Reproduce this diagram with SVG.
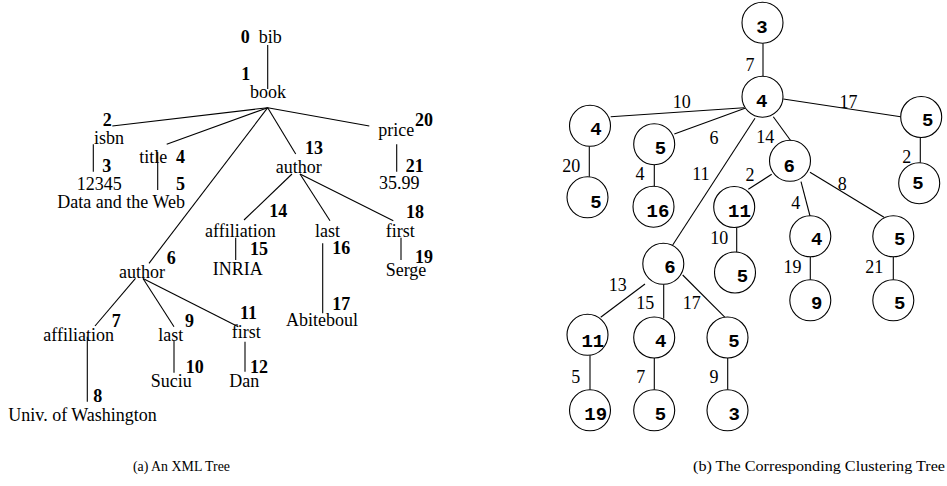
<svg xmlns="http://www.w3.org/2000/svg" width="947" height="486" viewBox="0 0 947 486">
<style>
text{font-family:"Liberation Serif","Times New Roman",serif;font-size:18px;fill:#000}
.b{font-weight:bold}
.n{font-family:"Liberation Mono","Courier New",monospace;font-weight:bold;font-size:19px;text-anchor:middle}
.cap{font-size:15px}
line{stroke:#000;stroke-width:1.1}
circle{fill:#fff;stroke:#000;stroke-width:1.1}
</style>
<rect width="947" height="486" fill="#fff"/>
<g id="connectors">
<line x1="267.7" y1="45" x2="267.7" y2="89"/>
<line x1="267.7" y1="107.7" x2="112.3" y2="126"/>
<line x1="267.7" y1="107.7" x2="166.7" y2="144.3"/>
<line x1="267.7" y1="107.7" x2="149" y2="263.3"/>
<line x1="267.7" y1="107.7" x2="295.7" y2="154"/>
<line x1="267.7" y1="107.7" x2="369.3" y2="126"/>
<line x1="93.3" y1="144.3" x2="93.3" y2="171.7"/>
<line x1="157.7" y1="152" x2="157.7" y2="190"/>
<line x1="396.7" y1="144.3" x2="396.7" y2="171.7"/>
<line x1="292" y1="174" x2="244" y2="220"/>
<line x1="300" y1="174" x2="330" y2="220.7"/>
<line x1="300" y1="174" x2="393.3" y2="220.7"/>
<line x1="235.7" y1="237.7" x2="235.7" y2="260"/>
<line x1="322.7" y1="243.3" x2="322.7" y2="313.3"/>
<line x1="401" y1="237.7" x2="401" y2="260"/>
<line x1="135.5" y1="278.3" x2="95" y2="326"/>
<line x1="143" y1="278.5" x2="174" y2="326.7"/>
<line x1="143" y1="278.5" x2="238.3" y2="326.7"/>
<line x1="87.3" y1="336.7" x2="87.3" y2="401.7"/>
<line x1="174" y1="340.7" x2="174" y2="372.7"/>
<line x1="245" y1="341.7" x2="245" y2="371.7"/>
<line x1="763" y1="43.3" x2="763" y2="76.2"/>
<line x1="783.3" y1="99" x2="900.7" y2="116.7"/>
<line x1="920.3" y1="137.5" x2="920.3" y2="162.7"/>
<line x1="773.3" y1="116.7" x2="791.7" y2="142"/>
<line x1="744" y1="107.7" x2="610.7" y2="116.7"/>
<line x1="589.3" y1="146.3" x2="589.3" y2="176.8"/>
<line x1="745" y1="108.3" x2="674.3" y2="134"/>
<line x1="654.3" y1="164.7" x2="654.3" y2="186.2"/>
<line x1="755" y1="118.3" x2="672.7" y2="245"/>
<line x1="771.7" y1="174.3" x2="748.3" y2="189.3"/>
<line x1="736.7" y1="227.5" x2="736.7" y2="252"/>
<line x1="801" y1="181.7" x2="810" y2="216"/>
<line x1="810.3" y1="256.8" x2="810.3" y2="279.8"/>
<line x1="810" y1="172.3" x2="884" y2="217.3"/>
<line x1="893.3" y1="256.8" x2="893.3" y2="279.8"/>
<line x1="645" y1="284" x2="600.7" y2="317.3"/>
<line x1="663.7" y1="284.3" x2="663.7" y2="318.5"/>
<line x1="682.7" y1="275" x2="725" y2="317.3"/>
<line x1="590" y1="355.3" x2="590" y2="389.8"/>
<line x1="654.3" y1="358" x2="654.3" y2="389.8"/>
<line x1="727.7" y1="358" x2="727.7" y2="389.8"/>
</g>
<g id="x0"><text class="b" x="240.7" y="43">0</text><text x="258.7" y="43">bib</text></g>
<g id="x1"><text class="b" x="241.3" y="80">1</text><text x="250" y="98">book</text></g>
<g id="x2"><text class="b" x="102.7" y="126">2</text><text x="94" y="144">isbn</text></g>
<g id="x3"><text class="b" x="102.3" y="171.7">3</text><text x="76.7" y="190">12345</text></g>
<g id="x4"><text x="139.3" y="162.7">title</text><text class="b" x="176" y="162.7">4</text></g>
<g id="x5"><text class="b" x="176" y="190">5</text><text x="57.3" y="208.3">Data and the Web</text></g>
<g id="x6"><text class="b" x="166.7" y="264">6</text><text x="119" y="277.7">author</text></g>
<g id="x7"><text class="b" x="111.7" y="327.3">7</text><text x="43.3" y="340.7">affiliation</text></g>
<g id="x8"><text class="b" x="93.3" y="401.7">8</text><text x="8.3" y="421">Univ. of Washington</text></g>
<g id="x9"><text class="b" x="185" y="326.7">9</text><text x="158.3" y="340.7">last</text></g>
<g id="x10"><text class="b" x="185.7" y="372.7">10</text><text x="150.7" y="387.3">Suciu</text></g>
<g id="x11"><text class="b" x="240" y="319.3">11</text><text x="231.7" y="338.3">first</text></g>
<g id="x12"><text class="b" x="250" y="373.3">12</text><text x="229.3" y="387.3">Dan</text></g>
<g id="x13"><text class="b" x="305" y="154">13</text><text x="275.7" y="173">author</text></g>
<g id="x14"><text class="b" x="269.3" y="217.3">14</text><text x="205" y="236.7">affiliation</text></g>
<g id="x15"><text class="b" x="250" y="255">15</text><text x="212.7" y="275">INRIA</text></g>
<g id="x16"><text class="b" x="332.3" y="254.3">16</text><text x="315" y="236.7">last</text></g>
<g id="x17"><text class="b" x="332.3" y="310">17</text><text x="286" y="326">Abiteboul</text></g>
<g id="x18"><text class="b" x="406" y="217.7">18</text><text x="385.7" y="236.7">first</text></g>
<g id="x19"><text class="b" x="415" y="262.7">19</text><text x="385.7" y="276">Serge</text></g>
<g id="x20"><text class="b" x="415" y="126">20</text><text x="378.3" y="136">price</text></g>
<g id="x21"><text class="b" x="405.7" y="171.7">21</text><text x="379" y="189">35.99</text></g>
<g id="c_root"><circle cx="762.5" cy="22.7" r="20.5"/><text class="n" x="762" y="33.3">3</text></g>
<g id="c_top"><circle cx="762.5" cy="96.7" r="20.5"/><text class="n" x="761.7" y="107.3">4</text></g>
<g id="c_r1"><circle cx="921.2" cy="117" r="20.5"/><text class="n" x="927.7" y="126">5</text></g>
<g id="c_r2"><circle cx="919.2" cy="183.2" r="20.5"/><text class="n" x="918" y="189.3">5</text></g>
<g id="c_l1"><circle cx="590" cy="125.8" r="20.5"/><text class="n" x="596" y="135">4</text></g>
<g id="c_l2"><circle cx="587.5" cy="197.3" r="20.5"/><text class="n" x="596" y="208.3">5</text></g>
<g id="c_m1"><circle cx="654.2" cy="144.2" r="20.5"/><text class="n" x="660.5" y="154">5</text></g>
<g id="c_m2"><circle cx="653.5" cy="206.7" r="20.5"/><text class="n" x="658" y="217.3">16</text></g>
<g id="c_s6"><circle cx="790" cy="160.8" r="20.5"/><text class="n" x="789.3" y="171.7">6</text></g>
<g id="c_s11"><circle cx="734.2" cy="207" r="20.5"/><text class="n" x="739.5" y="216.7">11</text></g>
<g id="c_s5"><circle cx="735" cy="272.5" r="20.5"/><text class="n" x="742.5" y="281.7">5</text></g>
<g id="c_s4"><circle cx="810.3" cy="236.3" r="20.5"/><text class="n" x="816.7" y="245">4</text></g>
<g id="c_s9"><circle cx="810.3" cy="300.3" r="20.5"/><text class="n" x="816.7" y="309.3">9</text></g>
<g id="c_s5b"><circle cx="893.3" cy="236.3" r="20.5"/><text class="n" x="899.7" y="245">5</text></g>
<g id="c_s5c"><circle cx="893.3" cy="300.3" r="20.5"/><text class="n" x="899.7" y="309.3">5</text></g>
<g id="c_b6"><circle cx="663.3" cy="263.8" r="20.5"/><text class="n" x="670" y="272.7">6</text></g>
<g id="c_b11"><circle cx="587.5" cy="334.8" r="20.5"/><text class="n" x="592.8" y="346.7">11</text></g>
<g id="c_b4"><circle cx="654.2" cy="337.5" r="20.5"/><text class="n" x="660.8" y="346.7">4</text></g>
<g id="c_b5"><circle cx="727.5" cy="337.5" r="20.5"/><text class="n" x="734" y="346.7">5</text></g>
<g id="c_b19"><circle cx="590" cy="410.3" r="20.5"/><text class="n" x="595.7" y="420">19</text></g>
<g id="c_b5b"><circle cx="654.2" cy="410.3" r="20.5"/><text class="n" x="660.5" y="420">5</text></g>
<g id="c_b3"><circle cx="727.5" cy="410.3" r="20.5"/><text class="n" x="734.3" y="420">3</text></g>
<g id="edge_labels">
<text x="745.5" y="70.7">7</text>
<text x="839.5" y="108.3">17</text>
<text x="902.2" y="163.3">2</text>
<text x="756.2" y="143.3">14</text>
<text x="745.5" y="180.7">2</text>
<text x="837.8" y="190">8</text>
<text x="791.2" y="209.3">4</text>
<text x="783.5" y="273.3">19</text>
<text x="865.2" y="272.7">21</text>
<text x="672.8" y="108.3">10</text>
<text x="562.2" y="171.7">20</text>
<text x="709.5" y="144">6</text>
<text x="635.5" y="180">4</text>
<text x="692.2" y="180">11</text>
<text x="710.2" y="244">10</text>
<text x="608.8" y="290.7">13</text>
<text x="636.2" y="309.3">15</text>
<text x="682.8" y="309.3">17</text>
<text x="571.2" y="382.7">5</text>
<text x="636.2" y="382.7">7</text>
<text x="709.5" y="382.7">9</text>
</g>
<g id="captions">
<text class="cap" x="133" y="471" textLength="97" lengthAdjust="spacingAndGlyphs">(a) An XML Tree</text>
<text class="cap" x="693" y="471" textLength="252" lengthAdjust="spacingAndGlyphs">(b) The Corresponding Clustering Tree</text>
</g>
</svg>
